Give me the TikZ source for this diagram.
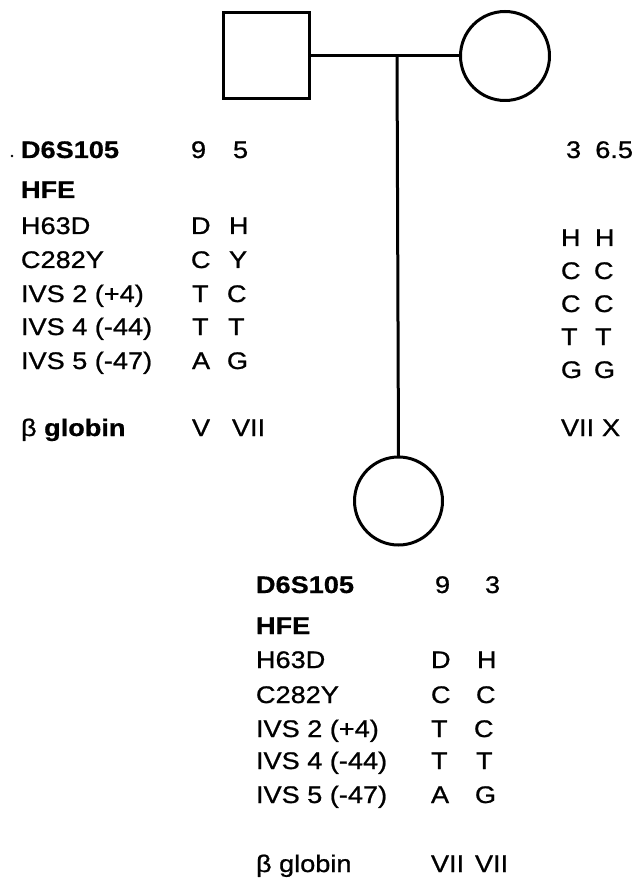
\documentclass[tikz,border=0pt]{standalone}
\usepackage{fontspec}
\setmainfont[FakeStretch=1.13,UprightFeatures={FakeBold=0.9},BoldFeatures={FakeBold=0.6}]{Liberation Sans}
\begin{document}
\begin{tikzpicture}[x=1pt,y=-1pt,
  txt/.style={anchor=base west,inner sep=0pt,outer sep=0pt,font=\fontsize{24}{27}\selectfont},
  txtr/.style={txt,anchor=base east},
  ped/.style={draw,line width=3pt,inner sep=0pt,outer sep=0pt},
  link/.style={line width=3pt}]
\useasboundingbox (0,0) rectangle (642,882);
% pedigree
\node[ped,rectangle,minimum size=86pt] (father) at (266,56) {};
\node[ped,circle,minimum size=89pt] (mother) at (505,56) {};
\node[ped,circle,minimum size=88pt] (child) at (398.5,501) {};
\coordinate (m) at (397,56);
\draw[link] (father.east) -- (mother.west);
\draw[link] (m) -- (child.north);
\fill (12,156) circle (1.3pt);
% father block
\node[txt] (fl1) at (21,158) {\bfseries D6S105};
\node[txt] (fl2) at (21,198) {\bfseries HFE};
\node[txt] (fl3) at (21,234) {H63D};
\node[txt] (fl4) at (21,268) {C282Y};
\node[txt] (fl5) at (21,302) {IVS 2 (+4)};
\node[txt] (fl6) at (21,335) {IVS 4 (-44)};
\node[txt] (fl7) at (21,369) {IVS 5 (-47)};
\node[txt] (fl8) at (21,436) {β \bfseries globin};
\node[txt] (fa1) at (191,158) {9};
\node[txt] (fb1) at (233,158) {5};
\node[txt] (fa3) at (191,234) {D};
\node[txt] (fb3) at (229,234) {H};
\node[txt] (fa4) at (191,268) {C};
\node[txt] (fb4) at (229,268) {Y};
\node[txt] (fa5) at (192,302) {T};
\node[txt] (fb5) at (227,302) {C};
\node[txt] (fa6) at (192,335) {T};
\node[txt] (fb6) at (228,335) {T};
\node[txt] (fa7) at (192,369) {A};
\node[txt] (fb7) at (227,369) {G};
\node[txt] (fa8) at (192,436) {V};
\node[txt] (fb8) at (232,436) {VII};
% mother alleles
\node[txt] (ma1) at (566,158) {3};
\node[txtr] (mb1) at (633,158) {6.5};
\node[txt] (ma3) at (561,246) {H};
\node[txt] (mb3) at (595,246) {H};
\node[txt] (ma4) at (561,279) {C};
\node[txt] (mb4) at (594,279) {C};
\node[txt] (ma5) at (561,312) {C};
\node[txt] (mb5) at (594,312) {C};
\node[txt] (ma6) at (561,345) {T};
\node[txt] (mb6) at (595,345) {T};
\node[txt] (ma7) at (561,378) {G};
\node[txt] (mb7) at (594,378) {G};
\node[txt] (ma8) at (561,436) {VII};
\node[txt] (mb8) at (602,436) {X};
% child block
\node[txt] (cl1) at (256,593) {\bfseries D6S105};
\node[txt] (cl2) at (256,634) {\bfseries HFE};
\node[txt] (cl3) at (256,668) {H63D};
\node[txt] (cl4) at (256,703) {C282Y};
\node[txt] (cl5) at (256,737) {IVS 2 (+4)};
\node[txt] (cl6) at (256,769) {IVS 4 (-44)};
\node[txt] (cl7) at (256,803) {IVS 5 (-47)};
\node[txt] (cl8) at (256,872) {β globin};
\node[txt] (ca1) at (435,593) {9};
\node[txt] (cb1) at (485,593) {3};
\node[txt] (ca3) at (431,668) {D};
\node[txt] (cb3) at (477,668) {H};
\node[txt] (ca4) at (431,703) {C};
\node[txt] (cb4) at (476,703) {C};
\node[txt] (ca5) at (431,737) {T};
\node[txt] (cb5) at (474,737) {C};
\node[txt] (ca6) at (431,769) {T};
\node[txt] (cb6) at (476,769) {T};
\node[txt] (ca7) at (431,803) {A};
\node[txt] (cb7) at (475,803) {G};
\node[txt] (ca8) at (431,872) {VII};
\node[txt] (cb8) at (475,872) {VII};
\end{tikzpicture}
\end{document}
